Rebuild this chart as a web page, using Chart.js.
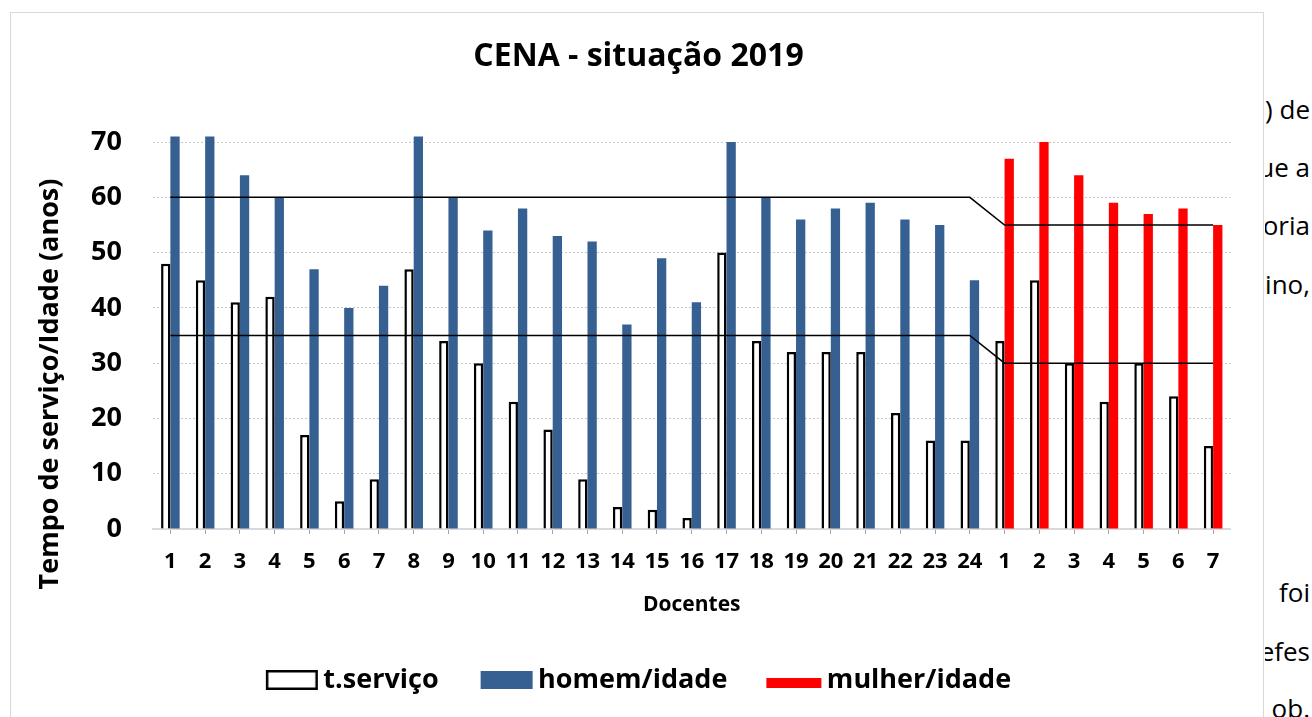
<!DOCTYPE html>
<html>
<head>
<meta charset="utf-8">
<script src="https://cdn.jsdelivr.net/npm/chart.js@4.4.1/dist/chart.umd.min.js"></script>
<style>
  html, body { margin: 0; padding: 0; background: #fff; width: 1312px; height: 717px; overflow: hidden; }
  #frame { position: absolute; left: 10px; top: 12px; width: 1252px; height: 720px; border: 1px solid #d9d9d9; border-bottom: none; background: #fff; }
  #c { position: absolute; left: 0; top: 0; }
  .doc { position: absolute; left: 1265px; width: 46px; height: 32px; overflow: hidden; white-space: nowrap;
         font-family: 'Open Sans', sans-serif; font-size: 26px; line-height: 32px; color: #000; }
  .doc span { position: absolute; right: 1px; top: 0; }
</style>
</head>
<body>
<div class="doc" style="top:93px"><span>) de</span></div>
<div class="doc" style="top:151px"><span>ue a</span></div>
<div class="doc" style="top:209px"><span>oria</span></div>
<div class="doc" style="top:268px"><span>ino,</span></div>
<div class="doc" style="top:576px"><span>foi</span></div>
<div class="doc" style="top:635px"><span>efes</span></div>
<div class="doc" style="top:692px"><span>ob.</span></div>
<div id="frame"><canvas id="c" width="1252" height="704"></canvas></div>
<script>
// ---- data ----
const chartTitle = 'CENA - situação 2019';
const xAxisTitle = 'Docentes';
const yAxisTitle = 'Tempo de serviço/Idade (anos)';
const categories = ['1','2','3','4','5','6','7','8','9','10','11','12','13','14','15','16','17','18','19','20','21','22','23','24',
                    '1','2','3','4','5','6','7'];
const seriesNames = ['t.serviço', 'homem/idade', 'mulher/idade'];
const tServico    = [48, 45, 41, 42, 17, 5, 9, 47, 34, 30, 23, 18, 9, 4, 3.5, 2, 50, 34, 32, 32, 32, 21, 16, 16,
                     34, 45, 30, 23, 30, 24, 15];
const homemIdade  = [71, 71, 64, 60, 47, 40, 44, 71, 60, 54, 58, 53, 52, 37, 49, 41, 70, 60, 56, 58, 59, 56, 55, 45,
                     null, null, null, null, null, null, null];
const mulherIdade = [null, null, null, null, null, null, null, null, null, null, null, null, null, null, null, null,
                     null, null, null, null, null, null, null, null,
                     67, 70, 64, 59, 57, 58, 55];
const limiteIdade   = [60, 60, 60, 60, 60, 60, 60, 60, 60, 60, 60, 60, 60, 60, 60, 60, 60, 60, 60, 60, 60, 60, 60, 60,
                       55, 55, 55, 55, 55, 55, 55];
const limiteServico = [35, 35, 35, 35, 35, 35, 35, 35, 35, 35, 35, 35, 35, 35, 35, 35, 35, 35, 35, 35, 35, 35, 35, 35,
                       30, 30, 30, 30, 30, 30, 30];
const yTicks = [0, 10, 20, 30, 40, 50, 60, 70];

// ---- styles ----
const colWhite = '#ffffff', colBlue = '#376092', colRed = '#ff0000';
Chart.defaults.font.family = "'Open Sans', sans-serif";
Chart.defaults.color = '#000';

function makeIcon(kind) {
  const cv = document.createElement('canvas');
  cv.width = 62; cv.height = 20;
  const g = cv.getContext('2d');
  if (kind === 0) {
    g.fillStyle = '#fff'; g.fillRect(9, 0, 52, 20);
    g.strokeStyle = '#000'; g.lineWidth = 2.5; g.strokeRect(10.25, 1.25, 49.5, 17.5);
  } else if (kind === 1) {
    g.fillStyle = colBlue; g.fillRect(9, 1, 52, 18);
  } else {
    g.fillStyle = colRed; g.fillRect(6, 8, 55, 10);
  }
  return cv;
}
const legendIcons = [makeIcon(0), makeIcon(1), makeIcon(2)];
const legendFill = [colWhite, colBlue, colRed];

const yTitlePlugin = {
  id: 'yTitle',
  afterDraw(chart) {
    const ctx = chart.ctx;
    ctx.save();
    ctx.translate(39, 371);
    ctx.rotate(-Math.PI / 2);
    ctx.font = "bold 27px 'Open Sans', sans-serif";
    ctx.fillStyle = '#000';
    ctx.textAlign = 'center';
    ctx.textBaseline = 'middle';
    ctx.fillText(yAxisTitle, 0, 0);
    ctx.restore();
  }
};

const barCommon = { type: 'bar', skipNull: true, categoryPercentage: 0.535, barPercentage: 1, order: 1 };

new Chart(document.getElementById('c'), {
  type: 'bar',
  data: {
    labels: categories,
    datasets: [
      Object.assign({ label: seriesNames[0], data: tServico, backgroundColor: colWhite, borderColor: '#000', borderWidth: 2.5 }, barCommon),
      Object.assign({ label: seriesNames[1], data: homemIdade, backgroundColor: colBlue, borderWidth: 0 }, barCommon),
      Object.assign({ label: seriesNames[2], data: mulherIdade, backgroundColor: colRed, borderWidth: 0 }, barCommon),
      { type: 'line', label: 'limite idade', data: limiteIdade, borderColor: '#000', borderWidth: 1.5,
        pointRadius: 0, fill: false, tension: 0, order: 0 },
      { type: 'line', label: 'limite serviço', data: limiteServico, borderColor: '#000', borderWidth: 1.5,
        pointRadius: 0, fill: false, tension: 0, order: 0 }
    ]
  },
  options: {
    responsive: false,
    animation: false,
    layout: { padding: { left: 35.5, right: 32.5, top: 0, bottom: 13.5 } },
    plugins: {
      tooltip: { enabled: false },
      title: { display: true, text: chartTitle, color: '#000',
               font: { size: 32, weight: 'bold' }, padding: { top: 25, bottom: 54.6 } },
      legend: {
        position: 'bottom',
        labels: {
          usePointStyle: true, pointStyleWidth: 44, padding: 42,
          font: { size: 27, weight: 'bold' }, color: '#000',
          generateLabels: () => seriesNames.map((name, i) => ({
            text: name, pointStyle: legendIcons[i], fillStyle: legendFill[i], strokeStyle: 'rgba(0,0,0,0)',
            lineWidth: 0, hidden: false, datasetIndex: i, fontColor: '#000'
          }))
        }
      }
    },
    scales: {
      x: {
        offset: true,
        afterFit: s => { s.height = 95.5; },
        grid: { display: true, drawOnChartArea: false, drawTicks: true, tickLength: 5, color: '#a6a6a6', offset: false },
        border: { display: true, color: '#d9d9d9', width: 2 },
        ticks: { font: { size: 22, weight: 'bold' }, padding: 15, maxRotation: 0, autoSkip: false, color: '#000' },
        title: { display: true, text: xAxisTitle, color: '#000', font: { size: 21, weight: 'bold' }, padding: { top: 0, bottom: 7 } }
      },
      y: {
        min: 0, max: 72,
        afterBuildTicks: s => { s.ticks = yTicks.map(v => ({ value: v })); },
        afterFit: s => { s.width = 106.5; },
        grid: { color: '#c8c8c8', lineWidth: 1, drawTicks: false },
        border: { display: false, dash: [2, 2] },
        ticks: { font: { size: 27, weight: 'bold' }, padding: 31, color: '#000' }
      }
    }
  },
  plugins: [yTitlePlugin]
});
</script>
</body>
</html>
